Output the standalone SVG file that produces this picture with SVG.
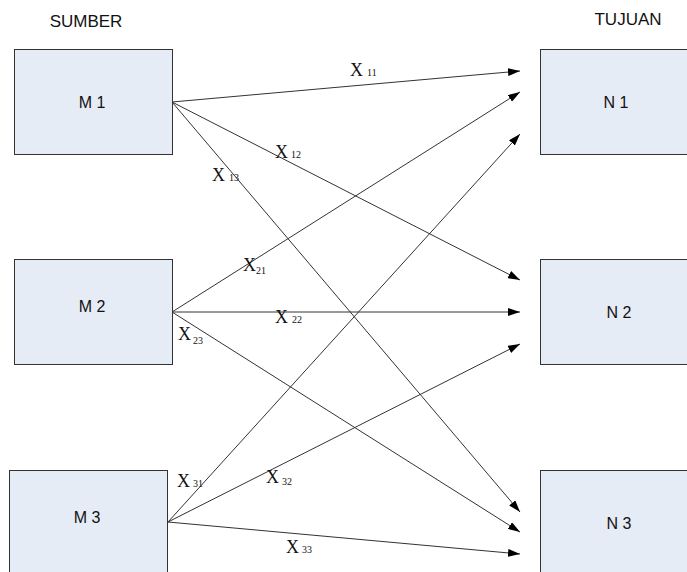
<svg xmlns="http://www.w3.org/2000/svg" width="687" height="572" viewBox="0 0 687 572">
<defs>
<marker id="arr" viewBox="0 0 12 8" refX="12" refY="4" markerWidth="12" markerHeight="8" markerUnits="userSpaceOnUse" orient="auto">
<path d="M0,0 L12,4 L0,8 Z" fill="#000"/>
</marker>
</defs>
<style>
.box{fill:#e6ecf6;stroke:#333;stroke-width:1}
.lbl{font-family:"Liberation Sans",Arial,sans-serif;font-size:16px;fill:#111;text-anchor:middle}
.hd{font-family:"Liberation Sans",Arial,sans-serif;font-size:17px;fill:#111;text-anchor:middle}
.e{stroke:#333;stroke-width:1;fill:none;marker-end:url(#arr)}
.x{font-family:"Liberation Serif","Times New Roman",serif;font-size:18px;fill:#111}
.s{font-size:10px}
</style>
<rect width="687" height="572" fill="#fff"/>
<text class="hd" x="86" y="27">SUMBER</text>
<text class="hd" x="628" y="25">TUJUAN</text>
<g id="M1"><rect class="box" x="14.5" y="49.5" width="158" height="105"/><text class="lbl" x="92" y="108">M 1</text></g>
<g id="M2"><rect class="box" x="14.5" y="259.5" width="158" height="105"/><text class="lbl" x="92" y="312">M 2</text></g>
<g id="M3"><rect class="box" x="9.5" y="470.5" width="158" height="110"/><text class="lbl" x="87" y="523">M 3</text></g>
<g id="N1"><rect class="box" x="540.5" y="49.5" width="160" height="105"/><text class="lbl" x="616" y="108">N 1</text></g>
<g id="N2"><rect class="box" x="540.5" y="259.5" width="160" height="105"/><text class="lbl" x="619" y="318">N 2</text></g>
<g id="N3"><rect class="box" x="540.5" y="470.5" width="160" height="110"/><text class="lbl" x="619" y="529">N 3</text></g>
<g id="connectors">
<line class="e" x1="172" y1="102" x2="520" y2="71"/>
<line class="e" x1="172" y1="102" x2="520" y2="280"/>
<line class="e" x1="172" y1="102" x2="520" y2="512"/>
<line class="e" x1="172" y1="312" x2="520" y2="92"/>
<line class="e" x1="172" y1="312" x2="520" y2="312"/>
<line class="e" x1="172" y1="312" x2="520" y2="532"/>
<line class="e" x1="168" y1="522" x2="520" y2="134"/>
<line class="e" x1="168" y1="522" x2="520" y2="344"/>
<line class="e" x1="168" y1="522" x2="520" y2="554"/>
<text class="x" x="350" y="76">X<tspan class="s" dx="4">11</tspan></text>
<text class="x" x="275" y="158">X<tspan class="s" dx="3">12</tspan></text>
<text class="x" x="212" y="181">X<tspan class="s" dx="4">13</tspan></text>
<text class="x" x="243" y="271">X<tspan class="s" dx="0" dy="3">21</tspan></text>
<text class="x" x="275" y="323">X<tspan class="s" dx="4">22</tspan></text>
<text class="x" x="178" y="340">X<tspan class="s" dx="2" dy="4">23</tspan></text>
<text class="x" x="177" y="487">X<tspan class="s" dx="3">31</tspan></text>
<text class="x" x="266" y="483">X<tspan class="s" dx="3" dy="2">32</tspan></text>
<text class="x" x="286" y="553">X<tspan class="s" dx="3">33</tspan></text>
</g>
</svg>
